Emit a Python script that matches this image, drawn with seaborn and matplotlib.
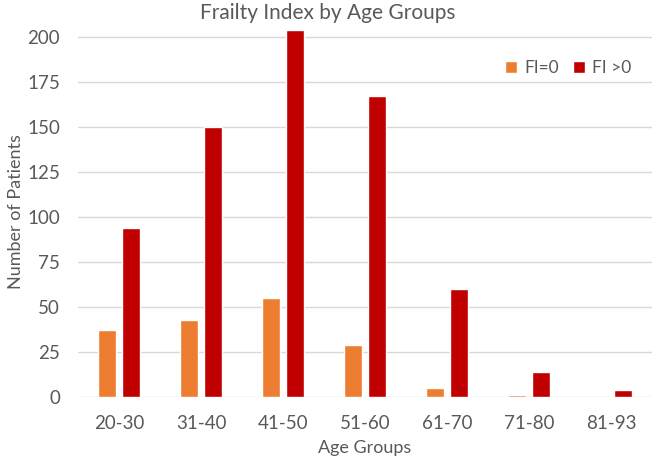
import matplotlib
matplotlib.use("Agg")
import matplotlib.pyplot as plt
import pandas as pd
import seaborn as sns

# Data
age_groups = ["20-30", "31-40", "41-50", "51-60", "61-70", "71-80", "81-93"]
fi_zero = [37, 43, 55, 29, 5, 1, 0]
fi_pos = [94, 150, 204, 167, 60, 14, 4]
series_names = ["FI=0", "FI >0"]
y_ticks = [0, 25, 50, 75, 100, 125, 150, 175, 200]

colors = ["#ED7D31", "#C00000"]
text_color = "#595959"

df = pd.DataFrame({
    "Age Groups": age_groups * 2,
    "Number of Patients": fi_zero + fi_pos,
    "Group": [series_names[0]] * len(age_groups) + [series_names[1]] * len(age_groups),
})

sns.set_style("white")
plt.rcParams["font.family"] = ["Lato", "DejaVu Sans"]

fig = plt.figure(figsize=(6.61, 4.68), dpi=100)
ax = fig.add_axes([78 / 661, 71 / 468, (652 - 78) / 661, 1 - 71 / 468])

sns.barplot(data=df, x="Age Groups", y="Number of Patients", hue="Group",
            palette=colors, saturation=1, width=0.58, gap=0.24, ax=ax,
            zorder=3)

ax.set_ylim(0, 220.5)
ax.set_yticks(y_ticks)
ax.grid(True, axis="y", color="#D9D9D9", linewidth=1, zorder=0)
ax.set_axisbelow(True)
for s in ax.spines.values():
    s.set_visible(False)

ax.tick_params(axis="both", length=0, labelsize=13.5, colors=text_color)
ax.tick_params(axis="y", pad=13)
ax.tick_params(axis="x", pad=13)
ax.set_xlabel("Age Groups", fontsize=13, color=text_color, labelpad=6)
ax.set_ylabel("Number of Patients", fontsize=13, color=text_color)
ax.yaxis.set_label_coords(-0.094, 0.466)

fig.text(0.496, 1 - 13 / 468, "Frailty Index by Age Groups", ha="center", va="center",
         fontsize=15, color=text_color)

handles, labels = ax.get_legend_handles_labels()
ax.legend(handles, labels, loc="center left", bbox_to_anchor=(505 / 661, 1 - 68 / 468),
          bbox_transform=fig.transFigure, ncol=2, frameon=False, fontsize=12.5,
          labelcolor=text_color, handlelength=0.7, handleheight=0.7,
          handletextpad=0.4, columnspacing=0.8, borderpad=0, borderaxespad=0)

fig.savefig("out.png", dpi=100)
